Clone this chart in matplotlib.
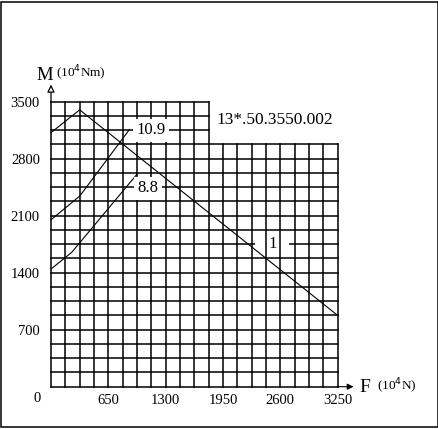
import matplotlib
matplotlib.use("Agg")
import matplotlib.pyplot as plt
from matplotlib.patches import Rectangle

# ---- data ----
F_curve1 = [0, 325, 3250]
M_curve1 = [3120, 3400, 875]
F_curve109 = [0, 325, 890]
M_curve109 = [2050, 2340, 3160]
F_curve88 = [0, 235, 975]
M_curve88 = [1445, 1650, 2610]

x_ticks = [650, 1300, 1950, 2600, 3250]
y_ticks = [700, 1400, 2100, 2800, 3500]
x_step = 162.5
y_step = 175
n_cols = 20
n_rows = 20
split_col = 11      # left block reaches 3500
split_row = 17      # right block reaches 2975

W, H = 439, 429
FONT = ['DejaVu Serif Condensed', 'Liberation Serif', 'DejaVu Serif']
plt.rcParams['font.family'] = FONT

fig = plt.figure(figsize=(W / 100, H / 100), dpi=100)
ax_l, ax_r, ax_b, ax_t = 51, 337.7, 386.7, 101.7
ax = fig.add_axes([ax_l / W, 1 - ax_b / H, (ax_r - ax_l) / W, (ax_b - ax_t) / H])
ax.set_xlim(0, n_cols * x_step)
ax.set_ylim(0, n_rows * y_step)
for s in ax.spines.values():
    s.set_visible(False)

x_max = n_cols * x_step
y_max = n_rows * y_step
x_split = split_col * x_step
y_split = split_row * y_step

# grid: horizontal lines below, vertical lines above the label gap patch
for k in range(n_cols + 1):
    x = k * x_step
    top = y_max if k <= split_col else y_split
    ax.plot([x, x], [0, top], color='black', lw=1.1, clip_on=False, zorder=1.6)
for j in range(n_rows + 1):
    y = j * y_step
    right = x_max if j <= split_row else x_split
    ax.plot([0, right], [y, y], color='black', lw=1.1, clip_on=False, zorder=1)

# curves
for fx, my in [(F_curve1, M_curve1), (F_curve109, M_curve109), (F_curve88, M_curve88)]:
    ax.plot(fx, my, color='black', lw=0.8, clip_on=False, zorder=2)

# curve labels
box = dict(facecolor='white', edgecolor='none', pad=2.5)
ax.text(1130, 3150, '10.9', fontsize=12, ha='center', va='center', bbox=box, zorder=3)
ax.text(1100, 2440, '8.8', fontsize=12, ha='center', va='center', bbox=box, zorder=3)
# label "1" sits in a gap of the horizontal grid line
ax.add_patch(Rectangle((2313, 1750 - 35), 390, 70, facecolor='white', edgecolor='none', zorder=1.3))
ax.text(2515, 1750, '1', fontsize=12, ha='center', va='center', zorder=3)

# ticks
ax.set_xticks(x_ticks)
ax.set_xticklabels([str(v) for v in x_ticks])
ax.set_yticks(y_ticks)
ax.set_yticklabels([str(v) for v in y_ticks])
ax.tick_params(axis='x', length=0, pad=5, labelsize=10.5)
ax.tick_params(axis='y', length=0, pad=8, labelsize=10.5)

def ftext(x, y, s, **kw):
    fig.text(x / W, 1 - y / H, s, **kw)

ftext(37, 398, '0', fontsize=10.5, ha='center', va='center')

# axis arrows
ax.annotate('', xy=(0, 1.06), xytext=(0, 1.0), xycoords='axes fraction',
            arrowprops=dict(arrowstyle='-|>', color='black', lw=0.9,
                            mutation_scale=11, fc='white', shrinkA=0, shrinkB=0))
ax.annotate('', xy=(1.055, 0), xytext=(1.0, 0), xycoords='axes fraction',
            arrowprops=dict(arrowstyle='-|>', color='black', lw=0.8,
                            mutation_scale=9, fc='black', shrinkA=0, shrinkB=0))

# axis titles
ftext(45, 75, 'M', fontsize=13.5, ha='center', va='center')
ftext(56, 73, '(10$^4$Nm)', fontsize=9.5, ha='left', va='center')
ftext(365, 388, 'F', fontsize=14, ha='center', va='center')
ftext(377, 386, '(10$^4$N)', fontsize=9.5, ha='left', va='center')

# part number
ftext(216, 120, '13*.50.3550.002', fontsize=12.5, ha='left', va='center')

# frame
fig.patches.append(Rectangle((1.5 / W, 1 - 426.7 / H), (437.7 - 1.5) / W, (426.7 - 1.5) / H,
                             transform=fig.transFigure, fill=False, edgecolor='black', lw=1.1))

fig.savefig('out.png', dpi=100, facecolor='white')
